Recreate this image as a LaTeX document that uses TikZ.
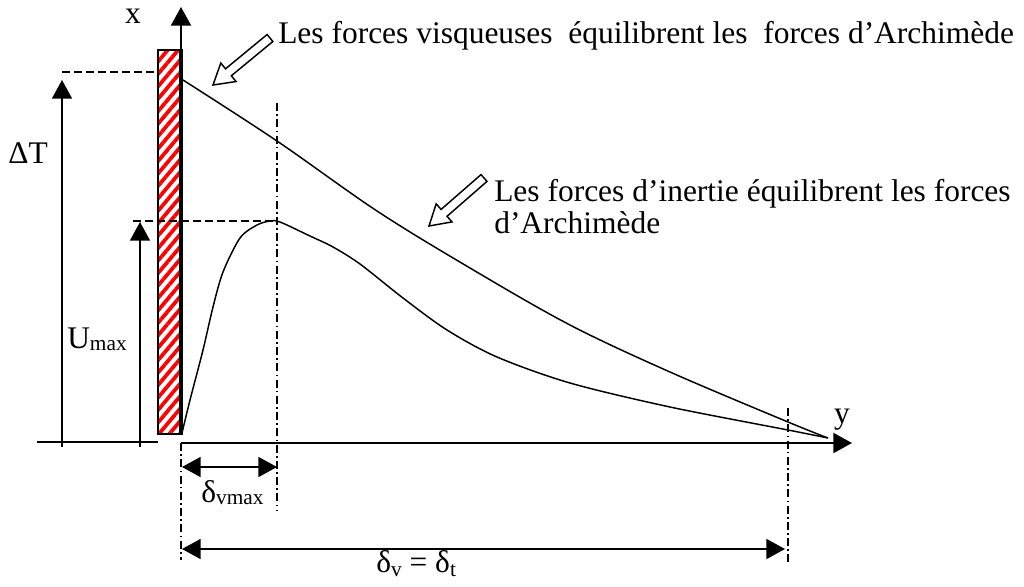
\documentclass[tikz,border=0pt]{standalone}
\usepackage{fontspec}
\setmainfont{Liberation Serif}
\usetikzlibrary{arrows.meta,patterns.meta,calc}
\newcommand{\hollowarrow}[2]{%
  \coordinate (hh) at ($(#1)!15pt!(#2)$);
  \draw[hollow] (#1) -- ($(hh)!9pt!90:(#2)$) -- ($(hh)!3.4pt!90:(#2)$)
    -- ($(#2)!3.4pt!-90:(hh)$) -- ($(#2)!3.4pt!90:(hh)$)
    -- ($(hh)!3.4pt!-90:(#2)$) -- ($(hh)!9pt!-90:(#2)$) -- cycle;}
\begin{document}
\begin{tikzpicture}[x=0.75pt,y=-0.75pt,
  lbl/.style={font=\fontsize{23.6pt}{24pt}\selectfont, inner sep=0pt},
  axisline/.style={line width=1.5pt},
  tipend/.style={-{Triangle[length=14pt,width=15pt]}},
  dimarrow/.style={line width=1.3pt,{Triangle[length=14pt,width=15pt]}-{Triangle[length=14pt,width=15pt]}},
  dashline/.style={line width=1.1pt,dash pattern=on 6pt off 3pt},
  dashdot/.style={line width=1.1pt,dash pattern=on 6pt off 2.5pt on 1.2pt off 2.5pt},
  curve/.style={line width=1.1pt},
  hollow/.style={draw,line width=1.1pt,fill=white,line join=miter}]

\useasboundingbox (0,0) rectangle (1024,586);

% wall
\path[pattern={Lines[angle=50,distance=6pt,line width=2.8pt]},pattern color=red] (158,50) rectangle (182,434);
\draw[line width=1pt] (158,50) rectangle (182,434);
\draw[line width=2.4pt] (181,50) -- (181,434);

% axes
\coordinate (xb) at (181,434);
\coordinate (xt) at (181,7);
\draw[axisline,tipend] (xb) -- (xt);
\coordinate (yb) at (181,443);
\coordinate (yt) at (852,443);
\draw[axisline,tipend] (yb) -- (yt);
\coordinate (bl) at (37,442);
\coordinate (br) at (158,442);
\draw[axisline] (bl) -- (br);

% Delta T
\coordinate (dTb) at (62,447);
\coordinate (dTt) at (62,80);
\draw[line width=1.3pt,tipend] (dTb) -- (dTt);
\coordinate (dTl) at (62,72);
\coordinate (dTr) at (158,72);
\draw[dashline] (dTl) -- (dTr);

% U max
\coordinate (Ub) at (140,447);
\coordinate (Ut) at (140,222);
\draw[line width=1.3pt,tipend] (Ub) -- (Ut);
\coordinate (Ul) at (133,221);
\coordinate (Ur) at (277,221);
\draw[dashline] (Ul) -- (Ur);

% dash-dot verticals
\coordinate (v1t) at (181,443);
\coordinate (v1b) at (181,560);
\coordinate (v2t) at (277,103);
\coordinate (v2b) at (277,510);
\coordinate (v3t) at (788,408);
\coordinate (v3b) at (788,562);
\draw[dashdot] (v1t) -- (v1b);
\draw[dashdot] (v2t) -- (v2b);
\draw[dashdot] (v3t) -- (v3b);

% dimension arrows
\coordinate (d1l) at (182,467);
\coordinate (d1r) at (277,467);
\draw[dimarrow] (d1l) -- (d1r);
\coordinate (d2l) at (182,549);
\coordinate (d2r) at (785,549);
\draw[dimarrow] (d2l) -- (d2r);

% curves
\draw[curve] plot[smooth,tension=0.55] coordinates {(183,80) (277,141) (377,211) (470,268) (570,325) (670,372) (788,422) (828,438)};
\draw[curve] plot[smooth,tension=0.5] coordinates {(182,433) (190,400) (203,350) (213,307) (223,272) (240,238) (257,225) (270,221) (280,222) (310,236) (333,247) (360,264) (403,298) (447,330) (497,357) (570,383) (670,407) (788,430) (828,438)};

% hollow arrows
\coordinate (a1tip) at (213,85);
\coordinate (a1tail) at (270,38);
\hollowarrow{a1tip}{a1tail}
\coordinate (a2tip) at (429,226);
\coordinate (a2tail) at (484,178);
\hollowarrow{a2tip}{a2tail}

% labels
\node[lbl] (xl) at (133,16) {x};
\node[lbl] (yl) at (842,420) {y};
\node[lbl] (dT) at (28,153) {ΔT};
\node[lbl,anchor=base west] (um) at (67,348) {U\raisebox{-1.5pt}{\fontsize{16pt}{16pt}\selectfont max}};
\node[lbl,anchor=base west] (dvm) at (201,502) {δ\raisebox{-2pt}{\fontsize{16pt}{16pt}\selectfont vmax}};
\node[lbl,anchor=base west] (dvt) at (376,572) {δ\raisebox{-3pt}{\fontsize{16pt}{16pt}\selectfont v} = δ\raisebox{-3pt}{\fontsize{16pt}{16pt}\selectfont t}};
\node[lbl,anchor=base west] (t1) at (278,43) {Les forces visqueuses\ \ équilibrent les\ \ forces d’Archimède};
\node[lbl,anchor=north west,align=left] (t2) at (494,179) {Les forces d’inertie équilibrent les forces\\d’Archimède};
\end{tikzpicture}
\end{document}
